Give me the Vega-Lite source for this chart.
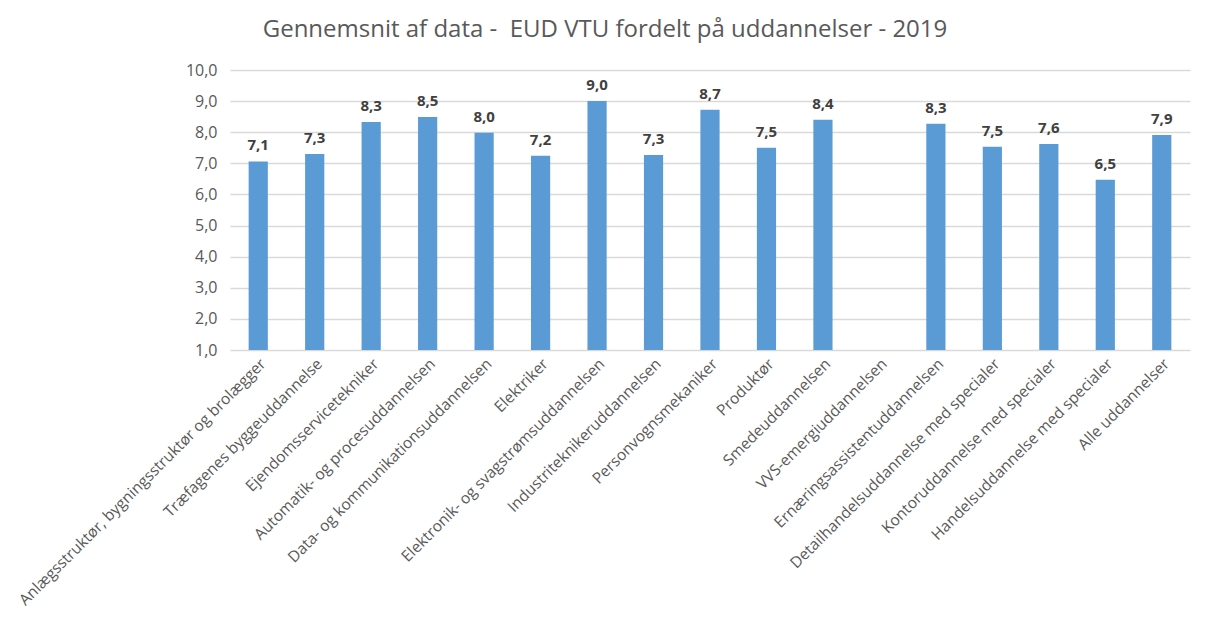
{
  "$schema": "https://vega.github.io/schema/vega-lite/v6.json",
  "autosize": {"type": "none"},
  "padding": {"left": 230, "top": 70, "right": 22, "bottom": 283},
  "width": 960,
  "height": 280,
  "title": {
    "text": "Gennemsnit af data - \u00a0EUD VTU fordelt på uddannelser - 2019",
    "font": "Open Sans",
    "fontSize": 24,
    "fontWeight": "normal",
    "color": "#595959",
    "anchor": "middle",
    "dx": -105,
    "offset": 20
  },
  "config": {
    "view": {"stroke": null},
    "locale": {"number": {"decimal": ",", "thousands": ".", "grouping": [3], "currency": ["", " kr."]}}
  },
  "data": {
    "values": [
      {"udd": "Anlægsstruktør, bygningsstruktør og brolægger", "v": 7.06},
      {"udd": "Træfagenes byggeuddannelse", "v": 7.3},
      {"udd": "Ejendomsservicetekniker", "v": 8.33},
      {"udd": "Automatik- og procesuddannelsen", "v": 8.49},
      {"udd": "Data- og kommunikationsuddannelsen", "v": 7.98},
      {"udd": "Elektriker", "v": 7.24},
      {"udd": "Elektronik- og svagstrømsuddannelsen", "v": 9.0},
      {"udd": "Industriteknikeruddannelsen", "v": 7.27},
      {"udd": "Personvognsmekaniker", "v": 8.72},
      {"udd": "Produktør", "v": 7.5},
      {"udd": "Smedeuddannelsen", "v": 8.4},
      {"udd": "VVS-emergiuddannelsen", "v": null},
      {"udd": "Ernæringsassistentuddannelsen", "v": 8.27},
      {"udd": "Detailhandelsuddannelse med specialer", "v": 7.53},
      {"udd": "Kontoruddannelse med specialer", "v": 7.62},
      {"udd": "Handelsuddannelse med specialer", "v": 6.47},
      {"udd": "Alle uddannelser", "v": 7.91}
    ]
  },
  "encoding": {
    "x": {
      "field": "udd",
      "type": "nominal",
      "sort": null,
      "title": null,
      "scale": {
        "domain": [
          "Anlægsstruktør, bygningsstruktør og brolægger",
          "Træfagenes byggeuddannelse",
          "Ejendomsservicetekniker",
          "Automatik- og procesuddannelsen",
          "Data- og kommunikationsuddannelsen",
          "Elektriker",
          "Elektronik- og svagstrømsuddannelsen",
          "Industriteknikeruddannelsen",
          "Personvognsmekaniker",
          "Produktør",
          "Smedeuddannelsen",
          "VVS-emergiuddannelsen",
          "Ernæringsassistentuddannelsen",
          "Detailhandelsuddannelse med specialer",
          "Kontoruddannelse med specialer",
          "Handelsuddannelse med specialer",
          "Alle uddannelser"
        ],
        "paddingInner": 0.66,
        "paddingOuter": 0.33
      },
      "axis": {
        "labelAngle": -45,
        "labelFont": "Open Sans",
        "labelFontSize": 15.5,
        "labelColor": "#595959",
        "labelLimit": 450,
        "labelPadding": 6,
        "ticks": false,
        "domain": false,
        "grid": false
      }
    },
    "y": {
      "field": "v",
      "type": "quantitative",
      "title": null,
      "scale": {"domain": [1, 10], "zero": false, "nice": false},
      "axis": {
        "values": [1, 2, 3, 4, 5, 6, 7, 8, 9, 10],
        "format": ".1f",
        "labelFont": "Open Sans",
        "labelFontSize": 16,
        "labelColor": "#595959",
        "labelPadding": 13,
        "ticks": false,
        "domain": false,
        "gridColor": "#d9d9d9",
        "gridWidth": 1.5
      }
    }
  },
  "layer": [
    {
      "mark": {"type": "bar", "color": "#5b9bd5"},
      "encoding": {"y2": {"datum": 1}}
    },
    {
      "transform": [{"filter": "datum.v != null"}],
      "mark": {"type": "text", "baseline": "bottom", "dy": -8, "font": "Open Sans", "fontSize": 15, "fontWeight": "bold", "color": "#404040"},
      "encoding": {"text": {"field": "v", "type": "quantitative", "format": ".1f"}}
    }
  ]
}
